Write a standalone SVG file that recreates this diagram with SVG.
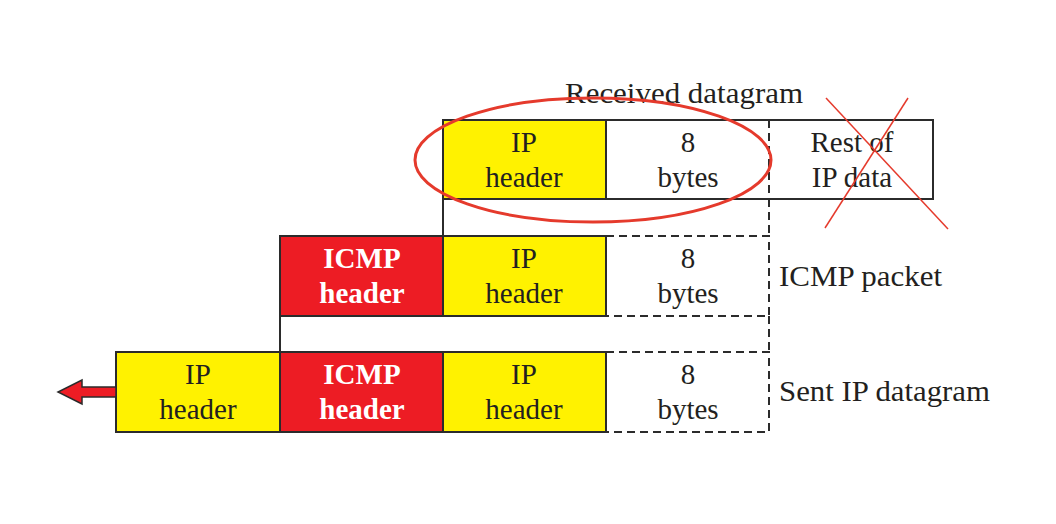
<svg xmlns="http://www.w3.org/2000/svg" width="1056" height="524" viewBox="0 0 1056 524">
<style>
.box{stroke:#2b2b2b;stroke-width:2}
.y{fill:#fff200}
.r{fill:#ed1c24}
.w{fill:#ffffff}
.ln{stroke:#2b2b2b;stroke-width:2;fill:none}
.d{stroke:#2b2b2b;stroke-width:2;fill:none;stroke-dasharray:8 5}
.t{font-family:"Liberation Serif","Times New Roman",serif;font-size:29px;fill:#231f20;text-anchor:middle}
.tb{font-family:"Liberation Serif","Times New Roman",serif;font-size:29px;fill:#ffffff;font-weight:bold;text-anchor:middle}
.lab{font-family:"Liberation Serif","Times New Roman",serif;font-size:29px;fill:#231f20}
</style>
<rect width="1056" height="524" fill="#ffffff"/>
<g id="connectors">
<line class="ln" x1="443" y1="199" x2="443" y2="236"/>
<line class="d" x1="769" y1="199" x2="769" y2="236"/>
<line class="ln" x1="280" y1="316" x2="280" y2="352"/>
<line class="d" x1="769" y1="316" x2="769" y2="352"/>
</g>
<g id="received">
<text class="lab" x="565" y="103" textLength="238" lengthAdjust="spacingAndGlyphs">Received datagram</text>
<rect class="box y" x="443" y="120" width="163" height="79"/>
<rect class="box w" x="606" y="120" width="327" height="79"/>
<line x1="769" y1="121" x2="769" y2="198" stroke="#ffffff" stroke-width="3"/>
<line class="d" x1="769" y1="120" x2="769" y2="199"/>
<text class="t" x="524" y="152">IP</text>
<text class="t" x="524" y="187">header</text>
<text class="t" x="688" y="152">8</text>
<text class="t" x="688" y="187">bytes</text>
<text class="t" x="852" y="152">Rest of</text>
<text class="t" x="852" y="187">IP data</text>
</g>
<g id="icmp-packet">
<rect class="box r" x="280" y="236" width="163" height="80"/>
<rect class="box y" x="443" y="236" width="163" height="80"/>
<path class="d" d="M606 236 H769 V316 H606"/>
<text class="tb" x="362" y="268">ICMP</text>
<text class="tb" x="362" y="303">header</text>
<text class="t" x="524" y="268">IP</text>
<text class="t" x="524" y="303">header</text>
<text class="t" x="688" y="268">8</text>
<text class="t" x="688" y="303">bytes</text>
<text class="lab" x="779" y="286" textLength="163" lengthAdjust="spacingAndGlyphs">ICMP packet</text>
</g>
<g id="sent-datagram">
<rect class="box y" x="116" y="352" width="164" height="80"/>
<rect class="box r" x="280" y="352" width="163" height="80"/>
<rect class="box y" x="443" y="352" width="163" height="80"/>
<path class="d" d="M606 352 H769 V432 H606"/>
<text class="t" x="198" y="384">IP</text>
<text class="t" x="198" y="419">header</text>
<text class="tb" x="362" y="384">ICMP</text>
<text class="tb" x="362" y="419">header</text>
<text class="t" x="524" y="384">IP</text>
<text class="t" x="524" y="419">header</text>
<text class="t" x="688" y="384">8</text>
<text class="t" x="688" y="419">bytes</text>
<text class="lab" x="779" y="401" textLength="211" lengthAdjust="spacingAndGlyphs">Sent IP datagram</text>
</g>
<g id="arrow">
<path d="M116 387 H82 V380 L58 392 L82 404 V397 H116 Z" fill="#ed1c24" stroke="#2b2b2b" stroke-width="1.5"/>
</g>
<g id="highlight">
<ellipse cx="593" cy="160" rx="178" ry="62" fill="none" stroke="#e53a2c" stroke-width="3"/>
<line x1="826" y1="98" x2="948" y2="229" stroke="#e53a2c" stroke-width="1.5"/>
<line x1="908" y1="98" x2="825" y2="228" stroke="#e53a2c" stroke-width="1.5"/>
</g>
</svg>
